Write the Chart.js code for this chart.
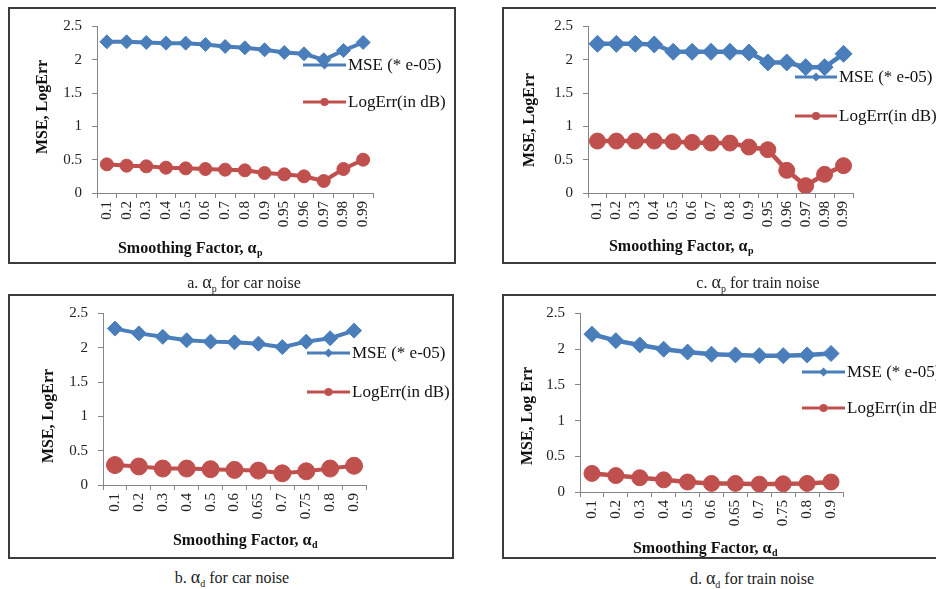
<!DOCTYPE html>
<html>
<head>
<meta charset="utf-8">
<script src="https://cdn.jsdelivr.net/npm/chart.js@4.4.0/dist/chart.umd.min.js"></script>
<style>
  html, body { margin: 0; padding: 0; background: #fff; }
  body { width: 936px; height: 589px; overflow: hidden; position: relative; font-family: "Liberation Serif", "Times New Roman", serif; }
  .box { position: absolute; border: 2px solid #3c3c3c; background: #fff; }
  .box canvas { display: block; }
  .cap { position: absolute; width: 300px; text-align: center; font-size: 16px; line-height: 18px; color: #222; }
  .cap .a { font-size: 18px; }
  .cap sub { font-size: 10px; }
</style>
</head>
<body>
<div class="box" style="left:8px;top:7px"><canvas id="chartA" width="444" height="253"></canvas></div>
<div class="box" style="left:502px;top:7px"><canvas id="chartC" width="443" height="253"></canvas></div>
<div class="box" style="left:8px;top:294px"><canvas id="chartB" width="442" height="261"></canvas></div>
<div class="box" style="left:502px;top:294px"><canvas id="chartD" width="458" height="261"></canvas></div>
<div class="cap" style="left:94px;top:273px">a. <span class="a">α</span><sub>p</sub> for car noise</div>
<div class="cap" style="left:608px;top:273px">c. <span class="a">α</span><sub>p</sub> for train noise</div>
<div class="cap" style="left:82px;top:568px">b. <span class="a">α</span><sub>d</sub> for car noise</div>
<div class="cap" style="left:602px;top:569px">d. <span class="a">α</span><sub>d</sub> for train noise</div>
<script>
// smoothing factors on the x axes
const factorsP = ['0.1', '0.2', '0.3', '0.4', '0.5', '0.6', '0.7', '0.8', '0.9', '0.95', '0.96', '0.97', '0.98', '0.99'];
const factorsD = ['0.1', '0.2', '0.3', '0.4', '0.5', '0.6', '0.65', '0.7', '0.75', '0.8', '0.9'];
const seriesNames = ['MSE (* e-05)', 'LogErr(in dB)'];
const yMin = 0, yMax = 2.5, yStep = 0.5;

// a. alpha_p, car noise
const mseCarP = [2.27, 2.27, 2.26, 2.25, 2.25, 2.23, 2.20, 2.18, 2.15, 2.11, 2.09, 2.00, 2.14, 2.26];
const logCarP = [0.43, 0.41, 0.40, 0.38, 0.37, 0.36, 0.35, 0.34, 0.30, 0.28, 0.25, 0.18, 0.36, 0.50];
// c. alpha_p, train noise
const mseTrainP = [2.24, 2.24, 2.24, 2.23, 2.12, 2.12, 2.12, 2.12, 2.11, 1.96, 1.96, 1.89, 1.89, 2.09];
const logTrainP = [0.78, 0.78, 0.78, 0.78, 0.77, 0.76, 0.75, 0.75, 0.69, 0.65, 0.34, 0.11, 0.28, 0.41];
// b. alpha_d, car noise
const mseCarD = [2.28, 2.21, 2.16, 2.11, 2.09, 2.08, 2.06, 2.01, 2.09, 2.14, 2.25];
const logCarD = [0.29, 0.27, 0.24, 0.24, 0.23, 0.22, 0.21, 0.17, 0.20, 0.24, 0.28];
// d. alpha_d, train noise
const mseTrainD = [2.21, 2.12, 2.06, 2.00, 1.96, 1.93, 1.92, 1.91, 1.91, 1.92, 1.94];
const logTrainD = [0.26, 0.23, 0.20, 0.17, 0.14, 0.12, 0.12, 0.11, 0.115, 0.12, 0.14];

const blue = '#4a7ebb';
const red = '#c0504d';
const axisGray = '#868686';
const serif = '"Liberation Serif", "Times New Roman", serif';

// axis titles (the x one has a subscript, which chart.js titles can't do)
const axisTitles = {
  id: 'axisTitles',
  afterDraw(chart, args, o) {
    const ctx = chart.ctx;
    ctx.save();
    ctx.fillStyle = '#111';
    ctx.textBaseline = 'middle';
    ctx.font = 'bold 16px ' + serif;
    ctx.save();
    ctx.translate(o.y.cx, o.y.cy);
    ctx.rotate(-Math.PI / 2);
    ctx.textAlign = 'center';
    ctx.fillText(o.y.text, 0, 0);
    ctx.restore();
    const w1 = ctx.measureText(o.x.text).width;
    ctx.font = 'bold 10px ' + serif;
    const w2 = ctx.measureText(o.x.sub).width;
    const left = o.x.cx - (w1 + w2) / 2;
    ctx.textAlign = 'left';
    ctx.font = 'bold 16px ' + serif;
    ctx.fillText(o.x.text, left, o.x.cy);
    ctx.font = 'bold 10px ' + serif;
    ctx.fillText(o.x.sub, left + w1 + 0.5, o.x.cy + 4);
    ctx.restore();
  }
};

// legend sitting over the right of the plot like the excel one
const sideLegend = {
  id: 'sideLegend',
  afterDraw(chart, args, o) {
    const ctx = chart.ctx;
    ctx.save();
    chart.data.datasets.forEach((ds, i) => {
      const y = o.y[i];
      const mid = o.x + o.len / 2;
      ctx.strokeStyle = ds.borderColor;
      ctx.fillStyle = ds.borderColor;
      ctx.lineWidth = 3;
      ctx.beginPath();
      ctx.moveTo(o.x, y);
      ctx.lineTo(o.x + o.len, y);
      ctx.stroke();
      ctx.beginPath();
      if (ds.pointStyle === 'rectRot') {
        ctx.moveTo(mid - 4.5, y);
        ctx.lineTo(mid, y - 4.5);
        ctx.lineTo(mid + 4.5, y);
        ctx.lineTo(mid, y + 4.5);
        ctx.closePath();
      } else {
        ctx.arc(mid, y, 4, 0, Math.PI * 2);
      }
      ctx.fill();
      ctx.fillStyle = '#111';
      ctx.font = '17px ' + serif;
      ctx.textBaseline = 'middle';
      ctx.textAlign = 'left';
      ctx.fillText(ds.label, o.x + o.len + 2, y + 1);
    });
    ctx.restore();
  }
};

function makePanel(id, labels, mse, logErr, s) {
  const tickFont = {family: serif, size: 15, lineHeight: 1};
  return new Chart(document.getElementById(id), {
    type: 'line',
    data: {
      labels: labels,
      datasets: [{
        label: seriesNames[0],
        data: mse,
        borderColor: blue,
        backgroundColor: blue,
        borderWidth: s.line,
        pointStyle: 'rectRot',
        pointRadius: s.diamond,
        pointBorderWidth: 1,
        tension: 0
      }, {
        label: seriesNames[1],
        data: logErr,
        borderColor: red,
        backgroundColor: red,
        borderWidth: s.line,
        pointStyle: 'circle',
        pointRadius: s.circle,
        pointBorderWidth: 1,
        tension: 0
      }]
    },
    options: {
      responsive: false,
      animation: false,
      devicePixelRatio: 1,
      layout: {padding: {left: 0, top: s.top, right: s.right, bottom: 0}},
      plugins: {
        legend: {display: false},
        tooltip: {enabled: false},
        axisTitles: {x: s.xTitle, y: s.yTitle},
        sideLegend: s.legend
      },
      scales: {
        x: {
          offset: true,
          grid: {offset: true, drawOnChartArea: false, tickLength: 5, color: axisGray},
          border: {color: axisGray},
          ticks: {autoSkip: false, minRotation: 90, maxRotation: 90, padding: 3, color: '#222', font: tickFont},
          afterFit: sc => { sc.height = s.xh; }
        },
        y: {
          min: yMin,
          max: yMax,
          grid: {drawOnChartArea: false, tickLength: 5, color: axisGray},
          border: {color: axisGray},
          ticks: {
            stepSize: yStep, padding: 10, color: '#222', font: tickFont,
            callback: v => String(Math.round(v * 10) / 10)
          },
          afterFit: sc => { sc.width = s.yw; }
        }
      }
    },
    plugins: [axisTitles, sideLegend]
  });
}

makePanel('chartA', factorsP, mseCarP, logCarP, {
  line: 4, diamond: 7, circle: 6.5, top: 8, right: 81, yw: 87, xh: 69,
  yTitle: {text: 'MSE, LogErr', cx: 33, cy: 98},
  xTitle: {text: 'Smoothing Factor, α', sub: 'p', cx: 180, cy: 240},
  legend: {x: 293, len: 43, y: [56, 93]}
});
makePanel('chartC', factorsP, mseTrainP, logTrainP, {
  line: 4.5, diamond: 8.5, circle: 8, top: 8, right: 94, yw: 84, xh: 69,
  yTitle: {text: 'MSE, LogErr', cx: 26, cy: 111},
  xTitle: {text: 'Smoothing Factor, α', sub: 'p', cx: 177, cy: 238},
  legend: {x: 291, len: 42, y: [68, 107]}
});
makePanel('chartB', factorsD, mseCarD, logCarD, {
  line: 4, diamond: 7.5, circle: 8.5, top: 8, right: 86, yw: 93, xh: 72,
  yTitle: {text: 'MSE, LogErr', cx: 39, cy: 120},
  xTitle: {text: 'Smoothing Factor, α', sub: 'd', cx: 235, cy: 245},
  legend: {x: 297, len: 43, y: [57, 96]}
});
makePanel('chartD', factorsD, mseTrainD, logTrainD, {
  line: 4.5, diamond: 8, circle: 8, top: 15, right: 119, yw: 76, xh: 65,
  yTitle: {text: 'MSE, Log Err', cx: 24, cy: 120},
  xTitle: {text: 'Smoothing Factor, α', sub: 'd', cx: 201, cy: 253},
  legend: {x: 298, len: 43, y: [76, 112]}
});
</script>
</body>
</html>
